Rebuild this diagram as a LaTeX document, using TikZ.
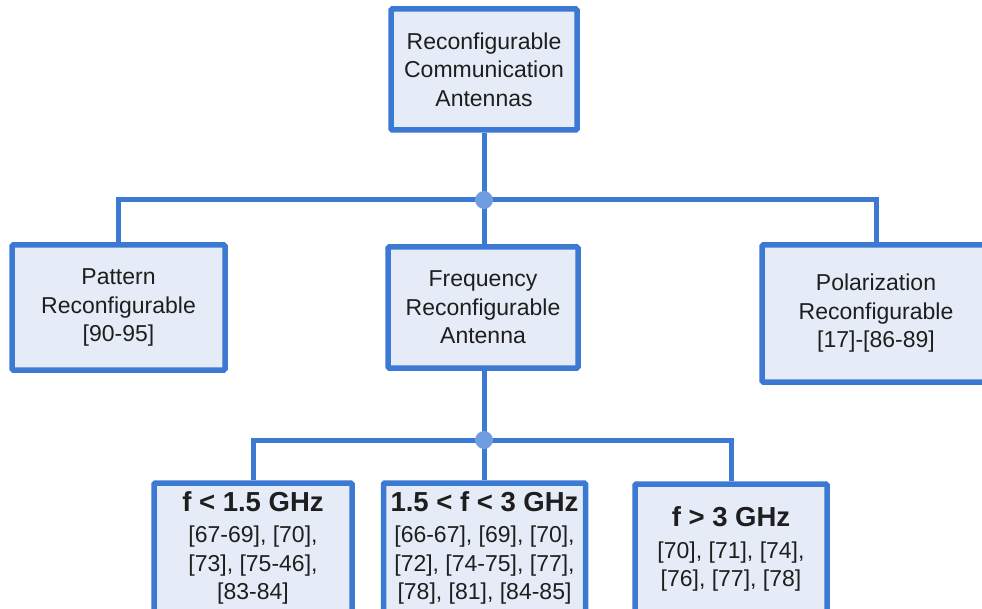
\documentclass[tikz,border=0pt]{standalone}
\usepackage{fontspec}
\setmainfont{Liberation Sans}

\definecolor{edgeblue}{HTML}{3B79D2}
\definecolor{boxfill}{HTML}{E6ECF7}
\definecolor{dotfill}{HTML}{6E9DE2}
\definecolor{inkgray}{HTML}{1E1E1E}

\tikzset{
  box/.style={draw=edgeblue, fill=boxfill, line width=5.5pt, rounded corners=1.2pt,
    align=center, text=inkgray, inner sep=0pt,
    font=\fontsize{23}{28.5}\selectfont},
  link/.style={draw=edgeblue, line width=5pt, line join=miter},
  junction/.style={circle, fill=dotfill, draw=edgeblue!70!white, line width=0.8pt,
    minimum size=17pt, inner sep=0pt}
}
\newcommand{\bandhead}[1]{{\fontsize{27.5}{30}\selectfont\bfseries #1}}

\begin{document}
\begin{tikzpicture}[x=1pt, y=-1pt]
  \useasboundingbox (0,0) rectangle (982,609);
  \clip (0,0) rectangle (982,609);

  % root and first level
  \node[box, minimum width=186pt, minimum height=121pt] (root) at (484,69.5)
    {Reconfigurable\\Communication\\Antennas};
  \node[box, minimum width=213pt, minimum height=125pt] (pat) at (118.5,307.5)
    {Pattern\\Reconfigurable\\{[90-95]}};
  \node[box, minimum width=190pt, minimum height=121pt] (freq) at (483,307.5)
    {Frequency\\Reconfigurable\\Antenna};
  \node[box, minimum width=228pt, minimum height=137pt] (pol) at (876,313.5)
    {Polarization\\Reconfigurable\\{[17]-[86-89]}};

  % frequency bands (boxes run past the lower edge)
  \node[box, minimum width=198pt, minimum height=130pt] (low) at (253,548)
    {\bandhead{f < 1.5 GHz}\\[3pt]
     {[67-69], [70],}\\{[73], [75-46],}\\{[83-84]}};
  \node[box, minimum width=202pt, minimum height=130pt] (mid) at (484.5,548)
    {\bandhead{1.5 < f < 3 GHz}\\[3pt]
     {[66-67], [69], [70],}\\{[72], [74-75], [77],}\\{[78], [81], [84-85]}};
  \node[box, minimum width=192pt, minimum height=130pt] (high) at (731,549)
    {\bandhead{f > 3 GHz}\\[3pt]
     {[70], [71], [74],}\\{[76], [77], [78]}};

  % junction points
  \coordinate (j1) at (484,200);
  \coordinate (j2) at (484,440);

  % connectors
  \draw[link] (root.south) -- (j1);
  \draw[link] (j1) -- (freq.north -| j1);
  \draw[link] (j1) -| (pat.north);
  \draw[link] (j1) -| (pol.north);
  \draw[link] (freq.south -| j2) -- (j2);
  \draw[link] (j2) -- (mid.north -| j2);
  \draw[link] (j2) -| (low.north);
  \draw[link] (j2) -| (high.north);

  \node[junction] (d1) at (j1) {};
  \node[junction] (d2) at (j2) {};
\end{tikzpicture}
\end{document}
